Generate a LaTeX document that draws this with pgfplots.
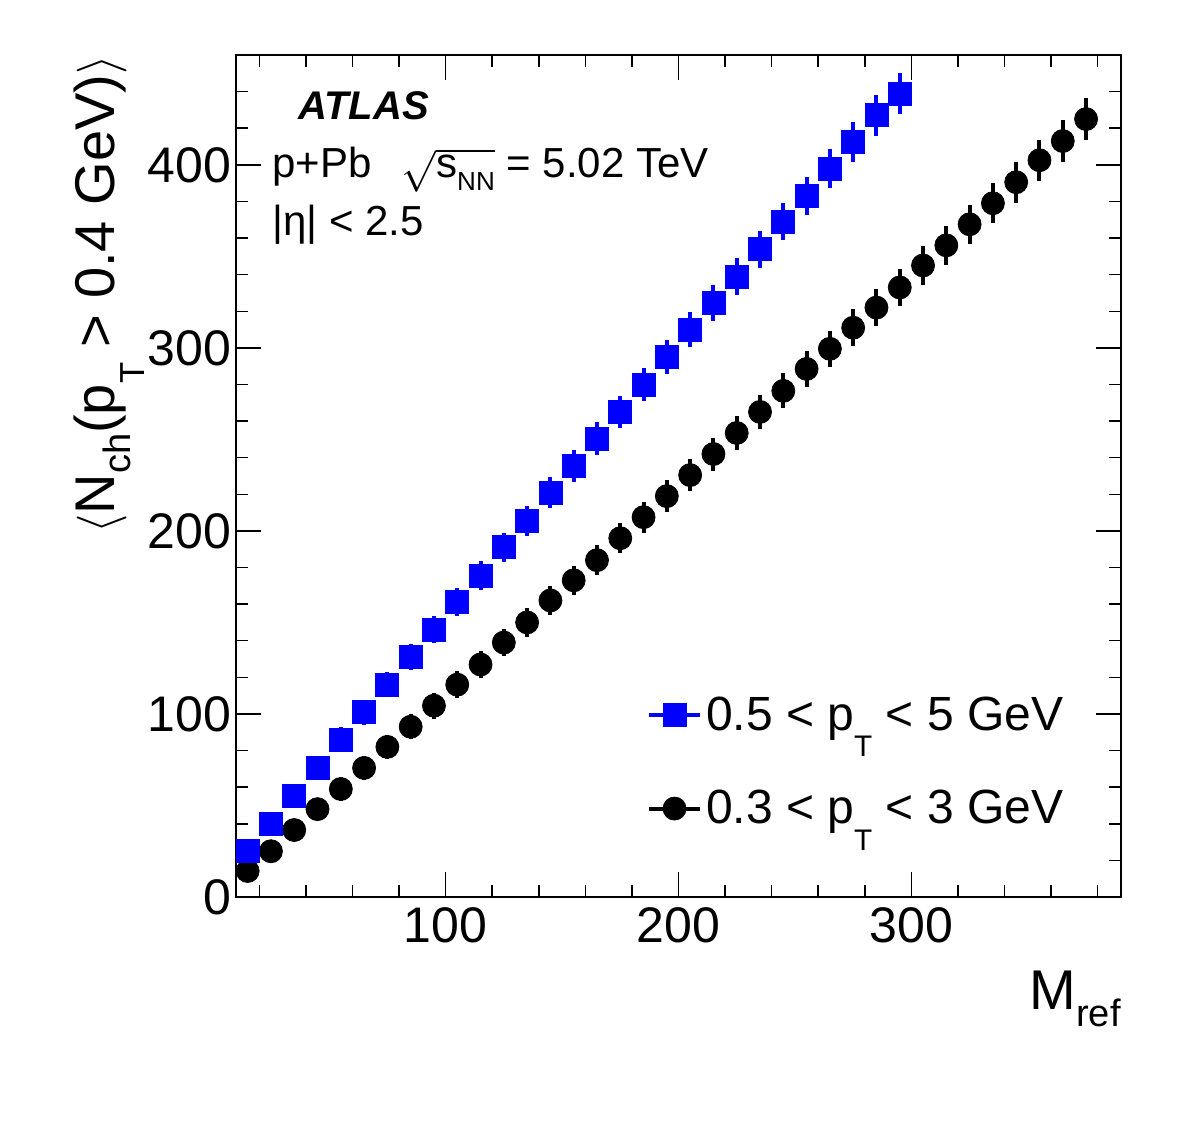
\documentclass[border=0pt]{standalone}
\usepackage{fontspec}
\setmainfont{Liberation Sans}
\usepackage{amsmath}
\usepackage{pgfplots}
\pgfplotsset{compat=1.18}
\newcommand{\lsub}[1]{\raisebox{-0.3em}{\scalebox{0.68}{#1}}}
\newcommand{\Tsub}{\raisebox{-0.55em}{\scalebox{0.62}{T}}}
\pgfplotstableread{
x y e
15 25 5.8
25 40 6.0
35 55 6.2
45 70.5 6.4
55 86 6.6
65 101 6.8
75 116 7.0
85 131 7.2
95 146 7.4
105 161 7.6
115 175.5 7.8
125 191 8.0
135 205.5 8.2
145 221 8.4
155 235.5 8.6
165 250.5 8.8
175 265 8.9
185 280 9.1
195 295 9.3
205 310 9.5
215 324.5 9.7
225 339 9.9
235 354 10.1
245 369 10.3
255 383 10.5
265 398 10.7
275 412.5 10.9
285 427 11.1
295 439 11.2
}\bluedata
\pgfplotstableread{
x y e
15 14.2 5.7
25 25 5.9
35 36.6 6.0
45 48 6.2
55 59 6.4
65 70.5 6.5
75 82 6.7
85 93 6.8
95 104.5 7.0
105 116 7.2
115 127 7.3
125 139 7.5
135 150 7.7
145 162 7.8
155 173 8.0
165 184 8.2
175 196 8.3
185 207.5 8.5
195 219 8.7
205 230.5 8.8
215 242 9.0
225 253.5 9.2
235 265 9.3
245 276.5 9.5
255 288.5 9.7
265 299.5 9.8
275 311 10.0
285 322 10.2
295 333 10.3
305 345 10.5
315 356 10.7
325 367.5 10.8
335 379 11.0
345 390.5 11.2
355 402.5 11.3
365 413 11.5
375 425 11.7
}\blackdata
\begin{document}
\begin{tikzpicture}
\useasboundingbox (0,0) rectangle (591pt,561.5pt);
\begin{axis}[
  at={(118pt,113pt)}, anchor=south west,
  scale only axis, width=442.5pt, height=421pt,
  xmin=10, xmax=390, ymin=0, ymax=460,
  xtick={100,200,300}, minor xtick={20,40,...,380},
  ytick={0,100,200,300,400}, minor ytick={20,40,...,460},
  tick align=inside, major tick length=12.5pt, minor tick length=6pt,
  every tick/.style={line width=0.75pt, black},
  axis line style={line width=1pt},
  /pgf/number format/assume math mode=true,
  ticklabel style={font=\fontsize{25}{28}\selectfont},
  xticklabel style={yshift=-2pt},
  yticklabel style={xshift=1pt},
  xlabel={M\lsub{ref}},
  xlabel style={at={(axis description cs:1,-0.134)}, anchor=base east, inner sep=0pt, font=\fontsize{28}{32}\selectfont},
  ylabel={$\langle$N\lsub{ch}(p\Tsub\ > 0.4 GeV)$\rangle$},
  ylabel style={at={(axis description cs:-0.184,1)}, anchor=north east, inner sep=0pt, font=\fontsize{28}{32}\selectfont},
  legend style={at={(axis description cs:0.464,0.243)}, anchor=north west, draw=none, fill=none,
    font=\fontsize{24}{28}\selectfont, inner sep=0pt, row sep=24.5pt,
    nodes={inner sep=2pt}},
  legend cell align=left,
  reverse legend,
  legend image code/.code={\draw[line width=2pt] (0pt,0pt) -- (25.5pt,0pt); \draw plot coordinates {(12.75pt,0pt)};},
]
\addplot[only marks, mark=*, mark size=5.75pt, black,
  error bars/.cd, y dir=both, y explicit, error mark=none, error bar style={line width=2pt}]
  table[x=x, y=y, y error=e] {\blackdata};
\addlegendentry{0.3 < p\Tsub\ < 3 GeV}
\addplot[only marks, mark=square*, mark size=5.75pt, blue,
  error bars/.cd, y dir=both, y explicit, error mark=none, error bar style={line width=2pt}]
  table[x=x, y=y, y error=e] {\bluedata};
\addlegendentry{0.5 < p\Tsub\ < 5 GeV}
\node[anchor=base west, inner sep=0pt, font=\fontsize{20}{24}\selectfont\bfseries\itshape] at (axis description cs:0.070,0.923) {ATLAS};
\node[anchor=base west, inner sep=0pt, font=\fontsize{21}{24}\selectfont] at (axis description cs:0.0407,0.854) {p+Pb\hspace{15pt}$\sqrt{\hbox{s\raisebox{-0.3em}{\scalebox{0.62}{NN}}}}$ = 5.02 TeV};
\node[anchor=base west, inner sep=0pt, font=\fontsize{21}{24}\selectfont] at (axis description cs:0.0407,0.786) {|η| < 2.5};
\end{axis}
\end{tikzpicture}
\end{document}
